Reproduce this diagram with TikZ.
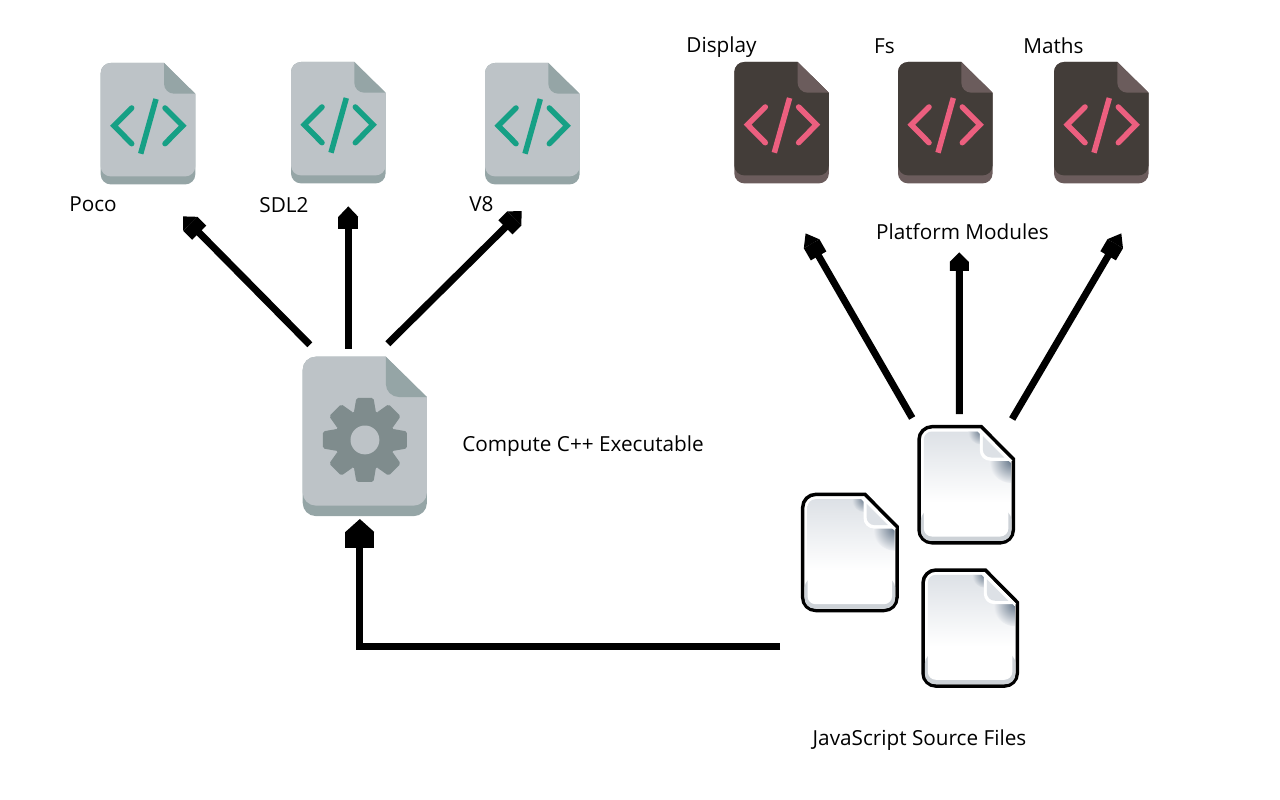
\documentclass[tikz,border=0pt]{standalone}
\usepackage{fontspec}
\setmainfont{Open Sans}
\usetikzlibrary{arrows.meta}
\definecolor{GreyBody}{HTML}{BDC3C7}
\definecolor{GreyFold}{HTML}{95A5A6}
\definecolor{GearGrey}{HTML}{7F8C8D}
\definecolor{CodeGreen}{HTML}{16A085}
\definecolor{DarkBody}{HTML}{433D39}
\definecolor{DarkFold}{HTML}{6B5C5C}
\definecolor{CodePink}{HTML}{EC5F7F}
\definecolor{PageTop}{HTML}{DDE1E6}
\definecolor{PageMid}{HTML}{EDEFF2}
\definecolor{PageEdge}{HTML}{CDD2D7}
\definecolor{PageShade}{HTML}{66778A}
\tikzset{
  tag/.style={font=\fontsize{11.8}{14}\selectfont, text=black, inner sep=0pt},
  spot/.style={inner sep=0pt, outer sep=0pt},
  fat/.style n args={3}{line width=.14cm, black,
    -{Rectangle[length=#2,width=#3,sep=0pt,line width=0pt]Triangle[length=#1,width=#3,sep=0pt,line width=0pt]}},
}
% flat file shape, 94.6 x 121.4 before scaling
\newcommand{\fileshape}[3]{%
  \fill[#2, rounded corners=#3*0.2cm] (0,60) -- (0,0) [sharp corners] -- (63.3,0) -- (94.6,31)
    [rounded corners=#3*0.2cm] -- (94.6,121.4) -- (0,121.4) -- cycle;
  \fill[#1, rounded corners=#3*0.2cm] (0,60) -- (0,0) [sharp corners] -- (63.3,0) -- (94.6,31)
    [rounded corners=#3*0.2cm] -- (94.6,113.4) -- (0,113.4) -- cycle;
  \fill[#2] (63.3,0) -- (94.6,30.7) -- (73.3,30.7) .. controls (67.8,30.7) and (63.3,26.2) .. (63.3,20.7) -- cycle;
}
\begin{document}
\begin{tikzpicture}[x=0.02cm, y=-0.02cm]
\useasboundingbox (0,0) rectangle (1280,800);

% ── Code files ────────────────────────────────────────────────────────────────
\foreach \nm/\x/\y/\bodyc/\flap/\ink in {
    poco/100.7/63/GreyBody/GreyFold/CodeGreen,
    sdl/291/62/GreyBody/GreyFold/CodeGreen,
    veight/485/63/GreyBody/GreyFold/CodeGreen,
    display/734.3/62/DarkBody/DarkFold/CodePink,
    fs/898/62/DarkBody/DarkFold/CodePink,
    maths/1054/62/DarkBody/DarkFold/CodePink}{
  \begin{scope}[shift={(\x,\y)}]
    \fileshape{\bodyc}{\flap}{1}
    \draw[\ink, line width=.11cm, line cap=round, line join=miter]
      (31,45) -- (13.3,62.7) -- (31,80.7);
    \draw[\ink, line width=.11cm, line cap=round, line join=miter]
      (64.3,45) -- (82,62.7) -- (64.3,80.7);
    \draw[\ink, line width=.11cm] (55.3,36) -- (40,90.7);
  \end{scope}
  \node[spot, minimum width=1.892cm, minimum height=2.428cm] (\nm) at (\x+47.3,\y+60.7) {};
}

% ── Executable ────────────────────────────────────────────────────────────────
\begin{scope}[shift={(302.7,356.7)}, scale=1.313]
  \fileshape{GreyBody}{GreyFold}{1.313}
  \fill[GearGrey] (47.4,63.4) circle[radius=23];
  \foreach \a in {0,45,...,315}{
    \fill[GearGrey, rotate around={\a:(47.4,63.4)}, rounded corners=1pt]
      (38.9,43) -- (40.9,31.4) -- (53.9,31.4) -- (55.9,43) -- cycle;
  }
  \fill[GreyBody] (47.4,63.4) circle[radius=11];
\end{scope}
\node[spot, minimum width=2.484cm, minimum height=3.186cm] (compute) at (364.8,436.4) {};

% ── JavaScript sources ────────────────────────────────────────────────────────
\foreach \nm/\x/\y in {jsTop/917.3/425, jsLeft/801/492.7, jsBottom/921.3/568.3}{
  \begin{scope}[shift={(\x,\y)}]
    \draw[black, fill=white, line width=.07cm, rounded corners=.26cm]
      (1.7,60) -- (1.7,1.7) [sharp corners] -- (64,1.7) -- (96,34)
      [rounded corners=.26cm] -- (96,117.8) -- (1.7,117.8) -- cycle;
    \fill[PageEdge, rounded corners=.2cm] (3.6,85) -- (3.6,115.9) -- (94.1,115.9) -- (94.1,85) -- cycle;
    \fill[white, rounded corners=.16cm] (6.5,60) -- (6.5,6.5) [sharp corners] -- (60,6.5) -- (91,38)
      [rounded corners=.16cm] -- (91,111.5) -- (6.5,111.5) -- cycle;
    \begin{scope}
      \clip[rounded corners=.16cm] (6.5,60) -- (6.5,6.5) [sharp corners] -- (60,6.5) -- (93.5,38)
        [rounded corners=.16cm] -- (93.5,111.5) -- (6.5,111.5) -- cycle;
      \shade[top color=PageTop, bottom color=white] (6.5,6.5) rectangle (93.5,78);
      \shade[inner color=PageShade, outer color=PageTop] (64,6.5) circle[radius=13];
      \shade[inner color=PageShade, outer color=PageMid] (94,36) circle[radius=22];
    \end{scope}
    \fill[white] (62.5,3.5) -- (95,35.8) -- (73,35.8) .. controls (67,35.8) and (62.5,31.3) .. (62.5,25.3) -- cycle;
    \fill[PageTop] (65.5,11) -- (87,32.5) -- (74,32.5) .. controls (69,32.5) and (65.5,29) .. (65.5,24) -- cycle;
  \end{scope}
  \node[spot, minimum width=1.954cm, minimum height=2.39cm] (\nm) at (\x+48.85,\y+59.75) {};
}

% ── Labels ────────────────────────────────────────────────────────────────────
\node[tag] (pocoTag) at (93,204) {Poco};
\node[tag] (sdlTag) at (284,205) {SDL2};
\node[tag] (veightTag) at (481.5,204) {V8};
\node[tag] (computeTag) at (583,446) {Compute C++ Executable};
\node[tag] (displayTag) at (721.5,47) {Display};
\node[tag] (fsTag) at (884.5,46) {Fs};
\node[tag] (mathsTag) at (1053.5,46) {Maths};
\node[tag] (platformTag) at (962.5,232) {Platform Modules};
\node[tag] (jsTag) at (919.5,740) {JavaScript Source Files};

% ── Connectors ────────────────────────────────────────────────────────────────
\draw[fat={.21cm}{.25cm}{.4cm}] ([shift={(-55,-12)}]compute.north) -- ([shift={(35,32)}]poco.south);
\draw[fat={.21cm}{.25cm}{.4cm}] ([shift={(-16.5,-8)}]compute.north) -- ([shift={(10,23)}]sdl.south);
\draw[fat={.21cm}{.25cm}{.4cm}] ([shift={(23,-13)}]compute.north) -- ([shift={(-10.6,26.7)}]veight.south);

\draw[fat={.24cm}{.28cm}{.36cm}] ([shift={(-54,-7)}]jsTop.north) -- ([shift={(24,50)}]display.south);
\draw[fat={.19cm}{.18cm}{.38cm}] ([shift={(-6.8,-11)}]jsTop.north) -- ([shift={(14,69)}]fs.south);
\draw[fat={.24cm}{.28cm}{.36cm}] ([shift={(46,-6)}]jsTop.north) -- ([shift={(20,50)}]maths.south);

\draw[fat={.26cm}{.31cm}{.58cm}] ([shift={(-21,34)}]jsLeft.south west) -| ([shift={(-5,3)}]compute.south);

\end{tikzpicture}
\end{document}
